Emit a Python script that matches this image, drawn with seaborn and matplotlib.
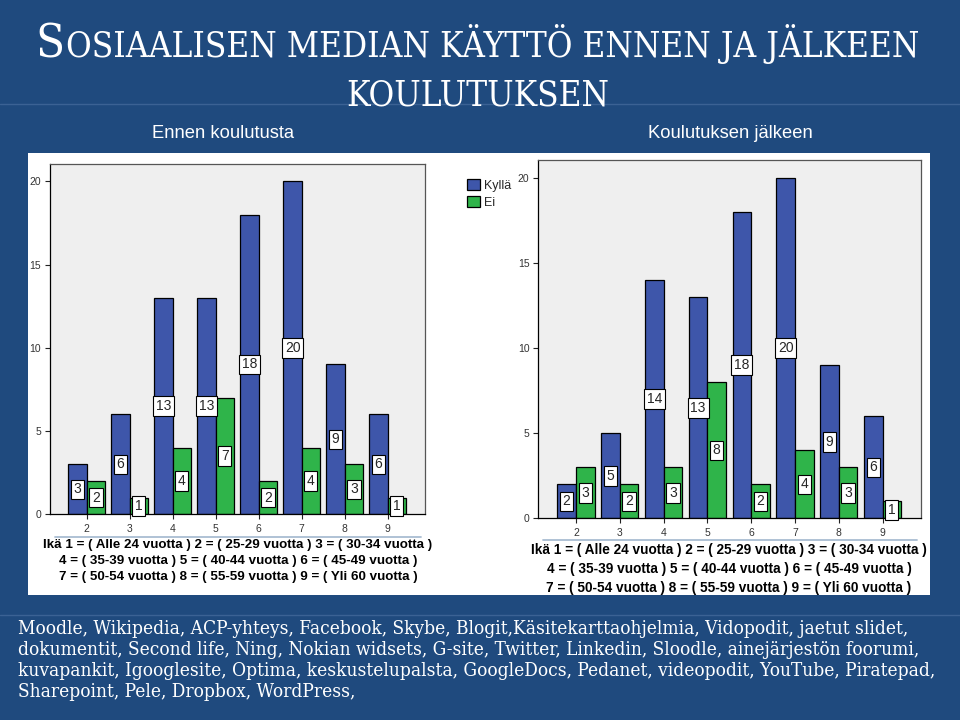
import matplotlib
matplotlib.use("Agg")
import matplotlib.pyplot as plt
import pandas as pd
import seaborn as sns
from matplotlib import font_manager
from matplotlib.patches import Rectangle
from matplotlib.lines import Line2D

# ---------------- data ----------------
categories = ["2", "3", "4", "5", "6", "7", "8", "9"]
series_names = ["Kyllä", "Ei"]
before_kylla = [3, 6, 13, 13, 18, 20, 9, 6]
before_ei = [2, 1, 4, 7, 2, 4, 3, 1]
after_kylla = [2, 5, 14, 13, 18, 20, 9, 6]
after_ei = [3, 2, 3, 8, 2, 4, 3, 1]
y_ticks = [0, 5, 10, 15, 20]

title_first = "S"
title_rest = "OSIAALISEN MEDIAN KÄYTTÖ ENNEN JA JÄLKEEN"
title_line2 = "KOULUTUKSEN"
subtitle_left = "Ennen koulutusta"
subtitle_right = "Koulutuksen jälkeen"
age_lines = [
    "Ikä 1 = ( Alle 24 vuotta ) 2 = ( 25-29 vuotta ) 3 = ( 30-34 vuotta )",
    "4 = ( 35-39 vuotta ) 5 = ( 40-44 vuotta ) 6 = ( 45-49 vuotta )",
    "7 = ( 50-54 vuotta ) 8 = ( 55-59 vuotta ) 9 = ( Yli 60 vuotta )",
]
tools_lines = [
    "Moodle, Wikipedia, ACP-yhteys, Facebook, Skybe, Blogit,Käsitekarttaohjelmia, Vidopodit, jaetut slidet,",
    "dokumentit, Second life, Ning, Nokian widsets, G-site, Twitter, Linkedin, Sloodle, ainejärjestön foorumi,",
    "kuvapankit, Igooglesite, Optima, keskustelupalsta, GoogleDocs, Pedanet, videopodit, YouTube, Piratepad,",
    "Sharepoint, Pele, Dropbox, WordPress,",
]

# ---------------- style ----------------
sns.set_theme(style="white")
fonts = font_manager.fontManager.ttflist
names = {f.name for f in fonts}
SANS = "Liberation Sans"
NARROW = "Liberation Sans Narrow" if "Liberation Sans Narrow" in names else SANS
serif_condensed = any(f.name == "DejaVu Serif" and f.stretch in ("condensed", 300)
                      for f in fonts)
if serif_condensed:
    SERIF = dict(family="DejaVu Serif", fontstretch="condensed")
else:
    SERIF = dict(family="Liberation Serif")
plt.rcParams["font.family"] = [SANS, "DejaVu Sans"]

BG = "#1f4a7e"
BLUE = "#3e56aa"
GREEN = "#2fb44a"
W, H = 960, 720


def fx(px):
    return px / W


def fy(py):
    return 1 - py / H


fig = plt.figure(figsize=(9.6, 7.2), dpi=100, facecolor=BG)

# white panel and faint separator lines
fig.add_artist(Rectangle((fx(28), fy(595)), (930 - 28) / W, (595 - 153) / H,
                         transform=fig.transFigure, facecolor="white",
                         edgecolor="none", zorder=0))
for yy in (104, 615):
    fig.add_artist(Line2D([0, 1], [fy(yy), fy(yy)], transform=fig.transFigure,
                          color="#3b6294", lw=1.0, zorder=0))


def make_df(kylla, ei):
    return pd.DataFrame({
        "Ikä": categories * 2,
        "Vastaus": [series_names[0]] * len(kylla) + [series_names[1]] * len(ei),
        "Lukumäärä": list(kylla) + list(ei),
    })


# axes positions in pixels: (left, right, top, bottom-zero)
specs = [
    dict(df=make_df(before_kylla, before_ei), box=(50.0, 424.7, 163.5, 514.3),
         xlim=(-0.853, 7.86), legend=True, label_center=238, label_top=539,
         sep=(55, 421, 537)),
    dict(df=make_df(after_kylla, after_ei), box=(538.3, 920.7, 160.0, 518.3),
         xlim=(-0.86, 7.87), legend=False, label_center=729, label_top=543,
         sep=(543, 917, 539.5)),
]

axes = []
xlabels = []
for s in specs:
    l, r, t, b = s["box"]
    ax = fig.add_axes([fx(l), fy(b), (r - l) / W, (b - t) / H])
    ax.set_facecolor("#efefef")
    sns.barplot(data=s["df"], x="Ikä", y="Lukumäärä", hue="Vastaus",
                order=categories, hue_order=series_names,
                palette=[BLUE, GREEN], saturation=1, width=0.85, gap=0,
                edgecolor="black", linewidth=0.9, legend=s["legend"], ax=ax)
    for cont in ax.containers:
        ax.bar_label(cont, fmt="%d", label_type="center", fontsize=10,
                     family=[NARROW, SANS],
                     bbox=dict(boxstyle="square,pad=0.2", fc="white",
                               ec="black", lw=0.8))
    ax.set_ylim(0, 21.07)
    ax.set_xlim(*s["xlim"])
    ax.set_yticks(y_ticks)
    ax.set_ylabel("")
    ax.tick_params(axis="both", which="both", direction="out", length=3.6,
                   width=0.8, colors="#222222", labelsize=7.5, labelcolor="#333333")
    ax.tick_params(axis="x", pad=3.5, bottom=True)
    ax.tick_params(axis="y", pad=2.8, left=True)
    for side, sp in ax.spines.items():
        sp.set_visible(True)
        sp.set_linewidth(0.9)
        sp.set_color("#555555")
    ax.spines["left"].set_color("black")
    ax.spines["bottom"].set_color("black")
    ax.set_xlabel("\n".join(age_lines), fontweight="bold", fontsize=9,
                  family=[NARROW, SANS], color="black", linespacing=1.45)
    ax.xaxis.set_label_coords((s["label_center"] - l) / (r - l),
                              (b - s["label_top"]) / (b - t))
    x0, x1, ys = s["sep"]
    fig.add_artist(Line2D([fx(x0), fx(x1)], [fy(ys), fy(ys)],
                          transform=fig.transFigure, color="#a9bdd2", lw=1.3))
    axes.append(ax)
    xlabels.append(ax.xaxis.label)

sns.move_legend(axes[0], loc="upper left", bbox_to_anchor=(fx(467), fy(179)),
                bbox_transform=fig.transFigure, frameon=False, title=None,
                fontsize=9, handlelength=1.05, handleheight=1.0,
                handletextpad=0.3, labelspacing=0.3, borderpad=0,
                borderaxespad=0)
for txt in axes[0].get_legend().get_texts():
    txt.set_family([NARROW, SANS])

# ---------------- titles and text ----------------
t_first = fig.text(fx(35), fy(57), title_first, color="white", va="baseline",
                   ha="left", fontsize=31, **SERIF)
t_rest = fig.text(fx(60), fy(57), title_rest, color="white", va="baseline",
                  ha="left", fontsize=23, **SERIF)
t_line2 = fig.text(fx(477.5), fy(105), title_line2, color="white",
                   va="baseline", ha="center", fontsize=23, **SERIF)
sub_l = fig.text(fx(223), fy(138), subtitle_left, color="white",
                 va="baseline", ha="center", fontsize=12.5, family=[NARROW, SANS])
sub_r = fig.text(fx(730.5), fy(138), subtitle_right, color="white",
                 va="baseline", ha="center", fontsize=12.5, family=[NARROW, SANS])
tool_texts = []
for i, line in enumerate(tools_lines):
    tool_texts.append(fig.text(fx(18), fy(633.5 + 21.2 * i), line, color="white",
                               va="baseline", ha="left", fontsize=14, **SERIF))

# ---------------- fit text widths to the reference layout ----------------
for _ in range(3):
    fig.canvas.draw()
    rend = fig.canvas.get_renderer()

    def wid(t):
        return t.get_window_extent(rend).width

    total = wid(t_first) + 2 + wid(t_rest)
    k = (922 - 35) / total
    t_first.set_fontsize(t_first.get_fontsize() * k)
    t_rest.set_fontsize(t_rest.get_fontsize() * k)
    t_line2.set_fontsize(t_rest.get_fontsize())
    for t, target in ((sub_l, 142), (sub_r, 165)):
        t.set_fontsize(t.get_fontsize() * target / wid(t))
    k = 887 / wid(tool_texts[0])
    for t in tool_texts:
        t.set_fontsize(t.get_fontsize() * k)
    for lab, target in zip(xlabels, (390, 398)):
        lab.set_fontsize(lab.get_fontsize() * target / wid(lab))

fig.canvas.draw()
rend = fig.canvas.get_renderer()
ext = t_first.get_window_extent(rend)
t_rest.set_x(fx(ext.x1 + 2))

fig.savefig("out.png", dpi=100, facecolor=BG)
